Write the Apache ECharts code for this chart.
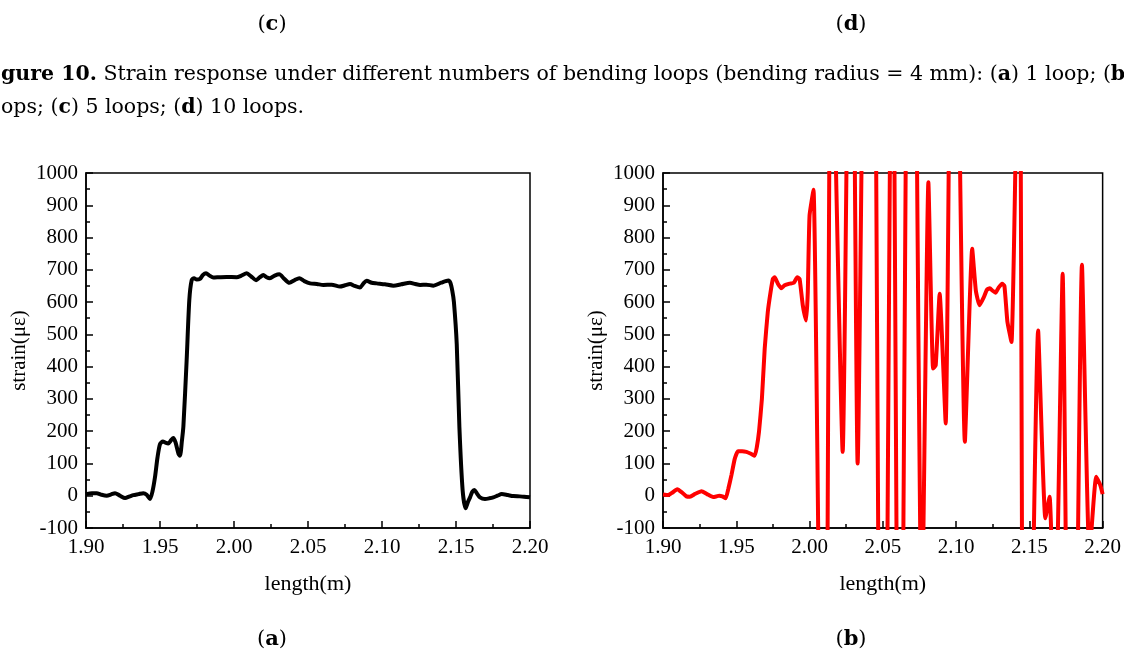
<!DOCTYPE html>
<html>
<head>
<meta charset="utf-8">
<title>Strain response under different numbers of bending loops</title>
<script src="https://cdn.jsdelivr.net/npm/echarts@6/dist/echarts.min.js"></script>
<style>
  html, body { margin: 0; padding: 0; background: #fff; }
  #chart { width: 1124px; height: 653px; }
</style>
</head>
<body>
<div id="chart"></div>
<script>
// Axis ranges and tick settings shared by both panels
const lengthMin = 1.90, lengthMax = 2.20, lengthStep = 0.05;
const strainMin = -100, strainMax = 1000, strainStep = 100;

// (a) 1 loop: position along the fibre (m) and measured strain (με)
const lengthA = [
  1.9000, 1.9040, 1.9072, 1.9105, 1.9140, 1.9170, 1.9196, 1.9230, 1.9264, 1.9295,
  1.9320, 1.9355, 1.9387, 1.9410, 1.9432, 1.9450, 1.9466, 1.9483, 1.9500, 1.9520,
  1.9534, 1.9556, 1.9575, 1.9590, 1.9605, 1.9625, 1.9635, 1.9648, 1.9658, 1.9680,
  1.9698, 1.9714, 1.9730, 1.9748, 1.9770, 1.9790, 1.9811, 1.9835, 1.9860, 1.9900,
  1.9950, 2.0018, 2.0050, 2.0086, 2.0115, 2.0149, 2.0175, 2.0198, 2.0220, 2.0243,
  2.0275, 2.0306, 2.0340, 2.0374, 2.0410, 2.0441, 2.0475, 2.0514, 2.0560, 2.0604,
  2.0660, 2.0716, 2.0750, 2.0784, 2.0815, 2.0851, 2.0875, 2.0896, 2.0930, 2.0964,
  2.1020, 2.1077, 2.1130, 2.1189, 2.1225, 2.1257, 2.1300, 2.1347, 2.1400, 2.1448,
  2.1462, 2.1475, 2.1486, 2.1505, 2.1523, 2.1545, 2.1565, 2.1580, 2.1595, 2.1610,
  2.1624, 2.1640, 2.1662, 2.1696, 2.1725, 2.1752, 2.1780, 2.1809, 2.1850, 2.1887,
  2.1930, 2.1960, 2.2000
];
const strainA = [
  5, 8, 8, 3, 0, 4, 8, 0, -7, -2,
  2, 5, 8, 3, -10, 15, 57, 118, 160, 168,
  165, 162, 172, 179, 165, 130, 124, 170, 215, 419,
  606, 668, 674, 670, 672, 684, 689, 682, 676, 677,
  678, 677, 682, 689, 680, 668, 677, 684, 677, 674,
  682, 686, 672, 660, 668, 674, 665, 658, 656, 653,
  654, 648, 652, 656, 650, 645, 658, 666, 660, 658,
  655, 651, 655, 660, 656, 653, 654, 651, 660, 667,
  660, 635, 600, 470, 212, 16, -39, -20, -5, 12,
  18, 8, -5, -10, -8, -5, 0, 5, 2, -1,
  -2, -3, -5
];

// (b) 3 loops: position along the fibre (m) and measured strain (με)
const lengthB = [
  1.9000, 1.9036, 1.9065, 1.9097, 1.9130, 1.9160, 1.9184, 1.9220, 1.9263, 1.9300,
  1.9342, 1.9365, 1.9383, 1.9405, 1.9428, 1.9445, 1.9467, 1.9490, 1.9512, 1.9540,
  1.9569, 1.9600, 1.9626, 1.9640, 1.9655, 1.9675, 1.9694, 1.9715, 1.9734, 1.9750,
  1.9762, 1.9784, 1.9807, 1.9830, 1.9864, 1.9893, 1.9916, 1.9932, 1.9954, 1.9977,
  1.9988, 2.0000, 2.0027, 2.0102, 2.0147, 2.0226, 2.0284, 2.0328, 2.0416, 2.0499,
  2.0565, 2.0615, 2.0692, 2.0766, 2.0811, 2.0843, 2.0861, 2.0888, 2.0929, 2.0981,
  2.1060, 2.1110, 2.1135, 2.1160, 2.1189, 2.1210, 2.1230, 2.1250, 2.1269, 2.1290,
  2.1314, 2.1330, 2.1350, 2.1378, 2.1432, 2.1468, 2.1560, 2.1609, 2.1638, 2.1675,
  2.1727, 2.1786, 2.1859, 2.1910, 2.1956, 2.1984, 2.2000
];
const strainB = [
  4, 2, 10, 20, 10, -2, -3, 6, 14, 5,
  -4, -2, 0, -2, -8, 20, 64, 115, 138, 138,
  136, 130, 124, 150, 198, 301, 456, 569, 631, 672,
  677, 657, 643, 652, 657, 660, 677, 672, 590, 543,
  631, 868, 948, -1860, 1670, 136, 2310, 100, 3540, -2130,
  1900, -1560, 3120, -440, 971, 394, 404, 626, 224, 2450,
  167, 765, 635, 590, 615, 638, 643, 635, 629, 645,
  657, 650, 540, 476, 1750, -1930, 512, -70, -3, -500,
  688, -1880, 716, -190, 59, 33, 5
];

const zip = (xs, ys) => xs.map((x, i) => [x, ys[i]]);

const serif = '"Liberation Serif", "Times New Roman", serif';
const captionFont = '"DejaVu Serif", serif';

function xAxisFor(gridIndex) {
  return {
    gridIndex,
    type: 'value',
    min: lengthMin,
    max: lengthMax,
    interval: lengthStep,
    name: 'length(m)',
    nameLocation: 'middle',
    nameGap: 45,
    nameTextStyle: { fontFamily: serif, fontSize: 22, color: '#000' },
    axisLine: { show: true, onZero: false, lineStyle: { color: '#000', width: 1.5 } },
    axisTick: { show: true, inside: true, length: 7, lineStyle: { color: '#000', width: 1.5 } },
    minorTick: { show: true, splitNumber: 2, length: 4, lineStyle: { color: '#000', width: 1.5 } },
    axisLabel: {
      margin: 9,
      fontFamily: serif,
      fontSize: 21,
      color: '#000',
      formatter: v => v.toFixed(2)
    },
    splitLine: { show: false }
  };
}

function yAxisFor(gridIndex) {
  return {
    gridIndex,
    type: 'value',
    min: strainMin,
    max: strainMax,
    interval: strainStep,
    name: 'strain(με)',
    nameLocation: 'middle',
    nameGap: 56,
    nameTextStyle: { fontFamily: serif, fontSize: 21, color: '#000' },
    axisLine: { show: true, onZero: false, lineStyle: { color: '#000', width: 1.5 } },
    axisTick: { show: true, inside: true, length: 7, lineStyle: { color: '#000', width: 1.5 } },
    minorTick: { show: true, splitNumber: 2, length: 4, lineStyle: { color: '#000', width: 1.5 } },
    axisLabel: {
      margin: 8,
      fontFamily: serif,
      fontSize: 21,
      color: '#000',
      formatter: v => String(Math.round(v))
    },
    splitLine: { show: false }
  };
}

function panelLabel(letter, x, y) {
  return {
    type: 'text',
    x, y,
    style: {
      text: '(' + '{b|' + letter + '})',
      font: '21px ' + captionFont,
      fill: '#000',
      align: 'center',
      verticalAlign: 'middle',
      rich: { b: { fontWeight: 'bold', fontFamily: captionFont, fontSize: 21 } }
    }
  };
}

const captionRich = { b: { fontWeight: 'bold', fontFamily: captionFont, fontSize: 20.5 } };

const chart = echarts.init(document.getElementById('chart'), null, { renderer: 'canvas' });

chart.setOption({
  backgroundColor: '#fff',
  animation: false,
  grid: [
    { left: 86, top: 173, width: 444, height: 355, show: true, borderColor: '#000', borderWidth: 1.5, backgroundColor: 'transparent' },
    { left: 663, top: 173, width: 440, height: 355, show: true, borderColor: '#000', borderWidth: 1.5, backgroundColor: 'transparent' }
  ],
  xAxis: [xAxisFor(0), xAxisFor(1)],
  yAxis: [yAxisFor(0), yAxisFor(1)],
  series: [
    {
      name: '1 loop',
      type: 'line',
      xAxisIndex: 0,
      yAxisIndex: 0,
      data: zip(lengthA, strainA),
      showSymbol: false,
      smooth: 0.25,
      clip: true,
      lineStyle: { color: '#000', width: 4 }
    },
    {
      name: '3 loops',
      type: 'line',
      xAxisIndex: 1,
      yAxisIndex: 1,
      data: zip(lengthB, strainB),
      showSymbol: false,
      smooth: 0.15,
      clip: true,
      lineStyle: { color: '#ff0000', width: 4 }
    }
  ],
  graphic: [
    panelLabel('c', 272, 25),
    panelLabel('d', 851, 25),
    {
      type: 'text',
      x: 1, y: 75,
      style: {
        text: '{b|gure 10.} Strain response under different numbers of bending loops (bending radius = 4 mm): ({b|a}) 1 loop; ({b|b}',
        font: '20.5px ' + captionFont,
        fill: '#000',
        align: 'left',
        verticalAlign: 'middle',
        rich: captionRich
      }
    },
    {
      type: 'text',
      x: 1, y: 108,
      style: {
        text: 'ops; ({b|c}) 5 loops; ({b|d}) 10 loops.',
        font: '20.5px ' + captionFont,
        fill: '#000',
        align: 'left',
        verticalAlign: 'middle',
        rich: captionRich
      }
    },
    panelLabel('a', 272, 640),
    panelLabel('b', 851, 640)
  ]
});
</script>
</body>
</html>
